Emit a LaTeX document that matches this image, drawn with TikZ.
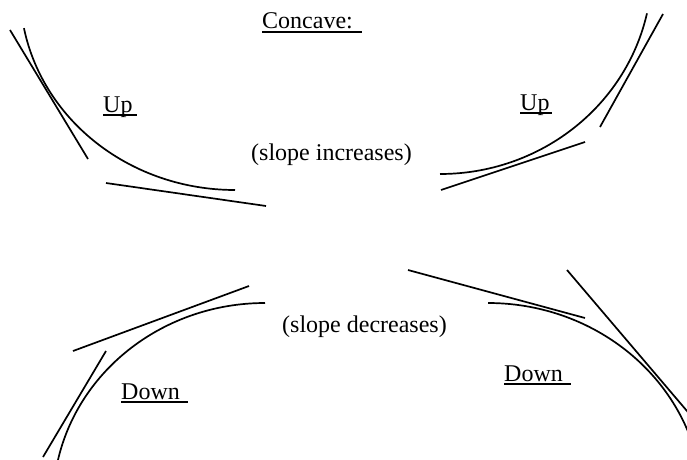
\documentclass[tikz,border=0pt]{standalone}
\usepackage{fontspec}
\setmainfont{Liberation Serif}
\begin{document}
\begin{tikzpicture}[x=1pt,y=1pt,
  curve/.style={line width=1.7pt},
  tang/.style={line width=1.7pt},
  lbl/.style={inner sep=0pt, anchor=base west, font=\fontsize{24}{28}\selectfont},
  uline/.style={line width=1.2pt}]
\useasboundingbox (0,0) rectangle (687,459);
\clip (0,0) rectangle (687,459);
% top-left (concave up, decreasing)
\draw[curve] (235,469) ++(191:215 and 200) arc[start angle=191, end angle=270, x radius=215, y radius=200];
\coordinate (tl1a) at (10,429); \coordinate (tl1b) at (88,300);
\coordinate (tl2a) at (106,276); \coordinate (tl2b) at (266,253);
\draw[tang] (tl1a) -- (tl1b);
\draw[tang] (tl2a) -- (tl2b);
% top-right (concave up, increasing)
\draw[curve] (440,490) ++(270:212 and 205) arc[start angle=270, end angle=347.5, x radius=212, y radius=205];
\coordinate (tr1a) at (663,445); \coordinate (tr1b) at (600,332);
\coordinate (tr2a) at (585,317); \coordinate (tr2b) at (441,269);
\draw[tang] (tr1a) -- (tr1b);
\draw[tang] (tr2a) -- (tr2b);
% bottom-left (concave down, increasing)
\draw[curve] (265,-44) ++(90:212 and 200) arc[start angle=90, end angle=168, x radius=212, y radius=200];
\coordinate (bl1a) at (43,2); \coordinate (bl1b) at (106,108);
\coordinate (bl2a) at (73,108); \coordinate (bl2b) at (249,173);
\draw[tang] (bl1a) -- (bl1b);
\draw[tang] (bl2a) -- (bl2b);
% bottom-right (concave down, decreasing)
\draw[curve] (488,-47) ++(90:215 and 203) arc[start angle=90, end angle=15, x radius=215, y radius=203];
\coordinate (br1a) at (408,189); \coordinate (br1b) at (585,141);
\coordinate (br2a) at (567,189); \coordinate (br2b) at (700,32.7);
\draw[tang] (br1a) -- (br1b);
\draw[tang] (br2a) -- (br2b);
% labels
\node[lbl] (concave) at (262,430) {Concave:\kern9pt};
\node[lbl] (upl) at (103,347) {Up\kern4pt};
\node[lbl] (upr) at (520,349) {Up\kern2pt};
\node[lbl] (inc) at (251,299) {(slope increases)};
\node[lbl] (dec) at (282,127) {(slope decreases)};
\node[lbl] (downl) at (121,60) {Down\kern8pt};
\node[lbl] (downr) at (504,78) {Down\kern8pt};
\foreach \n in {concave,upl,upr,downl,downr}
  \draw[uline] ([yshift=-3pt]\n.base west) -- ([yshift=-3pt]\n.base east);
\end{tikzpicture}
\end{document}
